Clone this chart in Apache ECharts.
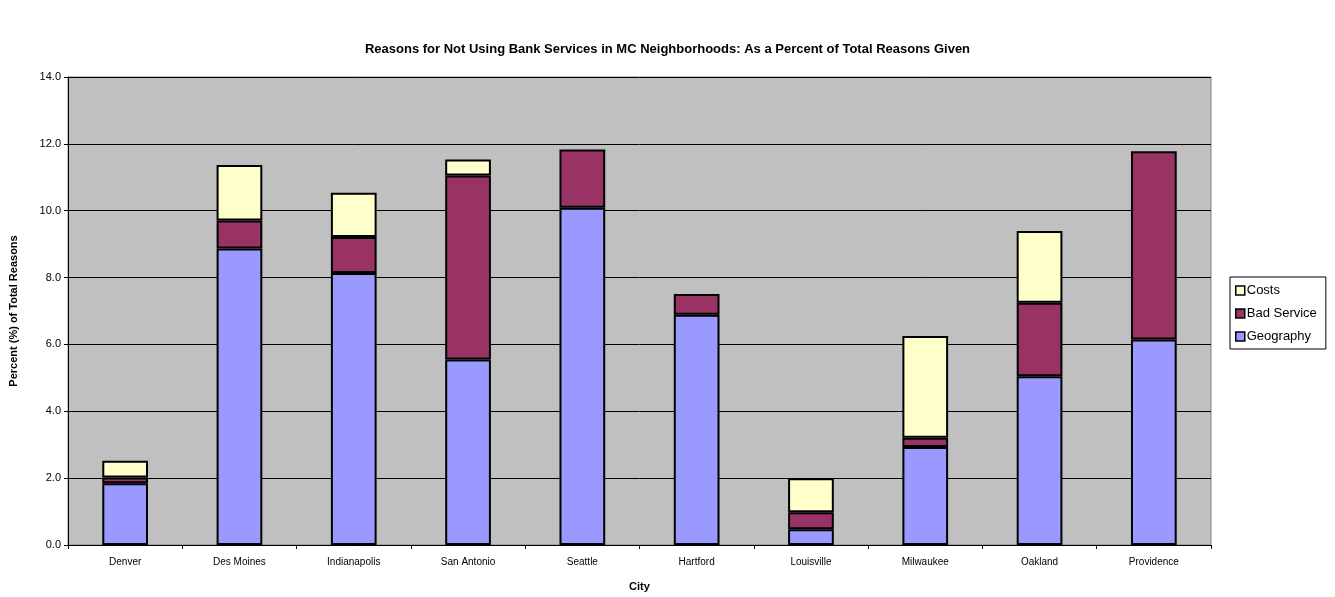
<!DOCTYPE html>
<html>
<head>
<meta charset="utf-8">
<script src="https://cdn.jsdelivr.net/npm/echarts@6/dist/echarts.min.js"></script>
<style>
  html, body { margin: 0; padding: 0; background: #ffffff; }
  #chart { width: 1335px; height: 597px; }
</style>
</head>
<body>
<div id="chart"></div>
<script>
// Cities surveyed
const cities = ['Denver', 'Des Moines', 'Indianapolis', 'San Antonio', 'Seattle',
  'Hartford', 'Louisville', 'Milwaukee', 'Oakland', 'Providence'];

// Share of all reasons given (%), by reason
const geography = [1.85, 8.87, 8.14, 5.55, 10.09, 6.89, 0.47, 2.93, 5.05, 6.15];
const badService = [0.17, 0.84, 1.07, 5.50, 1.74, 0.62, 0.51, 0.28, 2.20, 5.63];
const costs = [0.50, 1.66, 1.33, 0.48, null, null, 1.02, 3.04, 2.14, null];

const yTicks = { min: 0, max: 14, step: 2 };

const font = 'Liberation Sans, Arial, sans-serif';
const chart = echarts.init(document.getElementById('chart'));

function barSeries(name, data, color) {
  return {
    name: name,
    type: 'bar',
    stack: 'reasons',
    data: data,
    barWidth: '40%',
    itemStyle: { color: color, borderColor: '#000000', borderWidth: 2 },
    emphasis: { disabled: true },
    animation: false
  };
}

chart.setOption({
  animation: false,
  backgroundColor: '#ffffff',
  textStyle: { fontFamily: font },
  title: {
    text: 'Reasons for Not Using Bank Services in MC Neighborhoods: As a Percent of Total Reasons Given',
    left: 'center',
    top: 38,
    textStyle: { fontFamily: font, fontSize: 13, fontWeight: 'bold', color: '#000000' }
  },
  grid: {
    left: 68, right: 124, top: 77, bottom: 50,
    show: true,
    backgroundColor: '#c0c0c0',
    borderColor: '#808080',
    borderWidth: 1
  },
  legend: {
    orient: 'vertical',
    left: 1230,
    top: 277,
    data: ['Costs', 'Bad Service', 'Geography'],
    itemWidth: 9,
    itemHeight: 9,
    itemGap: 8,
    padding: [6, 9, 5, 5],
    borderColor: '#000000',
    borderWidth: 1,
    backgroundColor: '#ffffff',
    selectedMode: false,
    icon: 'rect',
    itemStyle: { borderColor: '#000000', borderWidth: 1.5 },
    textStyle: { fontFamily: font, fontSize: 13, lineHeight: 15, color: '#000000', padding: [0, 0, 0, -3] }
  },
  xAxis: {
    type: 'category',
    data: cities,
    name: 'City',
    nameLocation: 'middle',
    nameGap: 36,
    nameTextStyle: { fontFamily: font, fontSize: 11, fontWeight: 'bold', color: '#000000' },
    axisLine: { show: true, lineStyle: { color: '#000000', width: 1 } },
    axisTick: { show: true, length: 4, lineStyle: { color: '#000000' } },
    axisLabel: { fontFamily: font, fontSize: 10, color: '#000000', margin: 12 }
  },
  yAxis: {
    type: 'value',
    min: yTicks.min,
    max: yTicks.max,
    interval: yTicks.step,
    name: 'Percent (%) of Total Reasons',
    nameLocation: 'middle',
    nameGap: 49,
    nameTextStyle: { fontFamily: font, fontSize: 11, fontWeight: 'bold', color: '#000000' },
    axisLine: { show: true, lineStyle: { color: '#000000', width: 1 } },
    axisTick: { show: true, length: 4, lineStyle: { color: '#000000' } },
    axisLabel: {
      fontFamily: font, fontSize: 11, color: '#000000', margin: 7,
      formatter: v => v.toFixed(1)
    },
    splitLine: { show: true, lineStyle: { color: '#000000', width: 1 } }
  },
  series: [
    barSeries('Geography', geography, '#9999ff'),
    barSeries('Bad Service', badService, '#993366'),
    barSeries('Costs', costs, '#ffffcc')
  ]
});
</script>
</body>
</html>
